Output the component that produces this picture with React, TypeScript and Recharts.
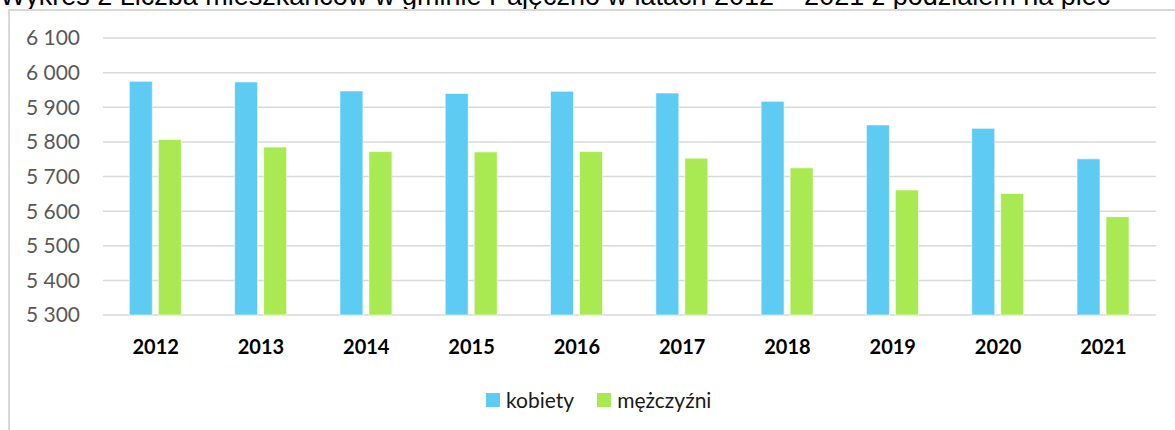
import React from 'react';
import {
  BarChart,
  Bar,
  XAxis,
  YAxis,
  CartesianGrid,
  Legend,
} from 'recharts';

const years = ['2012', '2013', '2014', '2015', '2016', '2017', '2018', '2019', '2020', '2021'];
const kobiety = [5975, 5973, 5947, 5940, 5946, 5941, 5917, 5849, 5839, 5751];
const mezczyzni = [5807, 5785, 5772, 5771, 5772, 5753, 5725, 5661, 5651, 5584];
const yTicks = [5300, 5400, 5500, 5600, 5700, 5800, 5900, 6000, 6100];

const seriesNames = { kobiety: 'kobiety', mezczyzni: 'mężczyźni' };
const title = 'Wykres 2 Liczba mieszkańców w gminie Pajęczno w latach 2012 – 2021 z podziałem na płeć';

const data = years.map((year, i) => ({
  year,
  kobiety: kobiety[i],
  mezczyzni: mezczyzni[i],
}));

const formatThousands = (value: number) =>
  String(value).replace(/\B(?=(\d{3})+(?!\d))/g, ' ');

const renderLegend = (props: any) => {
  const { payload } = props;
  return (
    <div style={{ display: 'flex', alignItems: 'center' }}>
      {payload.map((entry: any) => (
        <div
          key={entry.value}
          style={{ display: 'flex', alignItems: 'center', marginRight: 23 }}
        >
          <span
            style={{
              width: 14,
              height: 14,
              background: entry.color,
              display: 'inline-block',
              marginRight: 6,
            }}
          />
          <span style={{ fontSize: 21, color: '#1a1a1a', fontFamily: 'Lato, sans-serif' }}>
            {entry.value}
          </span>
        </div>
      ))}
    </div>
  );
};

const App = () => {
  return (
    <div
      style={{
        position: 'absolute',
        left: 0,
        top: 0,
        width: 1175,
        height: 430,
        overflow: 'hidden',
        background: '#fff',
      }}
    >
      <div
        style={{
          position: 'absolute',
          left: 0,
          top: -17,
          fontFamily: '"Liberation Sans", Arial, sans-serif',
          fontSize: 27,
          lineHeight: '27px',
          color: '#000',
          whiteSpace: 'nowrap',
        }}
      >
        {title}
      </div>
      <div
        style={{
          position: 'absolute',
          left: 8,
          top: 9,
          width: 2000,
          height: 1000,
          borderLeft: '2px solid #d9d9d9',
          borderTop: '2px solid #d9d9d9',
        }}
      />
      <div style={{ position: 'absolute', left: 0, top: 0 }}>
        <BarChart
          width={1175}
          height={430}
          data={data}
          margin={{ top: 38, right: 19, left: 0, bottom: 0 }}
          barCategoryGap="25%"
          barGap={6}
        >
          <CartesianGrid
            vertical={false}
            stroke="#d9d9d9"
            strokeWidth={1.5}
          />
          <XAxis
            dataKey="year"
            axisLine={false}
            tickLine={false}
            tickMargin={19}
            height={90}
            tick={{
              fill: '#000',
              fontSize: 20,
              fontWeight: 700,
              fontFamily: 'Lato, sans-serif',
            }}
          />
          <YAxis
            width={103}
            domain={[5300, 6100]}
            ticks={yTicks}
            interval={0}
            axisLine={false}
            tickLine={false}
            tickMargin={17}
            tickFormatter={formatThousands}
            tick={{ fill: '#595959', fontSize: 21, fontFamily: 'Lato, sans-serif' }}
          />
          <Legend
            content={renderLegend}
            wrapperStyle={{ left: 486, top: 387, width: 'auto' }}
          />
          <Bar
            dataKey="kobiety"
            name={seriesNames.kobiety}
            fill="#5ecbf3"
            stroke="#ffffff"
            strokeWidth={0.6}
            isAnimationActive={false}
          />
          <Bar
            dataKey="mezczyzni"
            name={seriesNames.mezczyzni}
            fill="#a9ea52"
            stroke="#ffffff"
            strokeWidth={0.6}
            isAnimationActive={false}
          />
        </BarChart>
      </div>
    </div>
  );
};

export default App;
